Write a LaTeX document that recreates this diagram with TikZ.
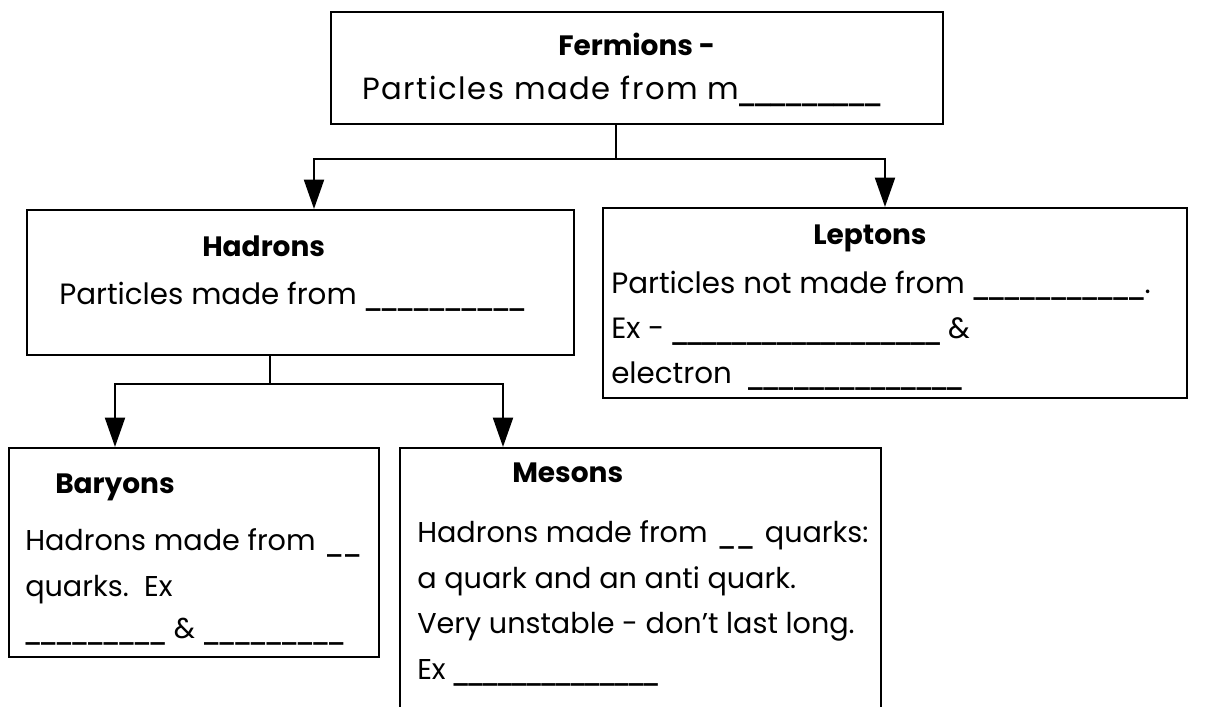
\documentclass[tikz,border=0pt]{standalone}
\usepackage{fontspec}
\setmainfont{Poppins}
\newfontfamily\blankfont{DejaVu Sans}
\usetikzlibrary{arrows.meta,fit}
% one pixel of the drawing grid
\newdimen\pxu \pxu=0.75pt
% a fill-in blank of joined underscores, #1 pixels long
\newcommand\blank[1]{\hbox to #1\pxu{\blankfont\bfseries\xleaders\hbox{\_}\hfill}}
\begin{document}
\begin{tikzpicture}[x=0.75pt,y=-0.75pt,
  box/.style={draw, line width=1.6pt, inner sep=0pt},
  wire/.style={line width=1.6pt},
  feed/.style={wire, -{Triangle[length=22pt,width=15pt]}},
  txt/.style={anchor=base west, inner sep=0pt, font=\fontsize{22}{26}\selectfont},
  txts/.style={txt, font=\fontsize{21.5}{26}\selectfont},
  txtb/.style={txt, font=\fontsize{23}{27}\selectfont\addfontfeature{LetterSpace=5}},
  ttl/.style={anchor=base west, inner sep=0pt, font=\fontsize{21}{25}\selectfont\bfseries}]
\useasboundingbox (0,0) rectangle (1208,707);
\clip (0,0) rectangle (1208,707);

% ---- boxes ----
\coordinate (f1) at (331,12);   \coordinate (f2) at (943,124);
\coordinate (h1) at (27,210);   \coordinate (h2) at (574,355);
\coordinate (l1) at (603,208);  \coordinate (l2) at (1187,398);
\coordinate (b1) at (9,448);    \coordinate (b2) at (379,657);
\coordinate (m1) at (400,448);  \coordinate (m2) at (881,760);
\node[box, fit=(f1)(f2)] (ferm) {};
\node[box, fit=(h1)(h2)] (had) {};
\node[box, fit=(l1)(l2)] (lep) {};
\node[box, fit=(b1)(b2)] (bar) {};
\node[box, fit=(m1)(m2)] (mes) {};

% ---- connectors ----
\coordinate (fx) at (616,159);
\coordinate (hx) at (314,0);
\coordinate (lx) at (885,0);
\draw[wire] (ferm.south -| fx) -- (fx);
\draw[feed] (fx) -| (had.north -| hx);
\draw[feed] (fx) -| (lep.north -| lx);

\coordinate (hf) at (270,384);
\coordinate (bx) at (115,0);
\coordinate (mx) at (503,0);
\draw[wire] (had.south -| hf) -- (hf);
\draw[feed] (hf) -| (bar.north -| bx);
\draw[feed] (hf) -| (mes.north -| mx);

% ---- texts ----
\node[ttl] (fermT) at (558,55) {Fermions -};
\node[txtb] (fermA) at (362,99) {Particles made from m\blank{142}};

\node[ttl] (hadT) at (202,256) {Hadrons};
\node[txt] (hadA) at (59,304) {Particles made from \blank{161}};

\node[ttl] (lepT) at (813,244) {Leptons};
\node[txt] (lepA) at (611,293) {Particles not made from \blank{172}.};
\node[txt] (lepB) at (611,338) {Ex - \blank{268} \&};
\node[txt] (lepC) at (611,383) {electron\ \ \blank{215}};

\node[ttl] (barT) at (55,493) {Baryons};
\node[txts] (barA) at (25,550) {Hadrons made from \blank{40}};
\node[txts] (barB) at (25,596) {quarks.\ \ Ex};
\node[txts] (barC) at (24,638) {\blank{142} \& \blank{142}};

\node[ttl] (mesT) at (512,482) {Mesons};
\node[txts] (mesA) at (417,542) {Hadrons made from \blank{42} quarks:};
\node[txts] (mesB) at (417,588) {a quark and an anti quark.};
\node[txts] (mesC) at (417,633) {Very unstable - don’t last long.};
\node[txts] (mesD) at (417,679) {Ex \blank{205}};
\end{tikzpicture}
\end{document}
